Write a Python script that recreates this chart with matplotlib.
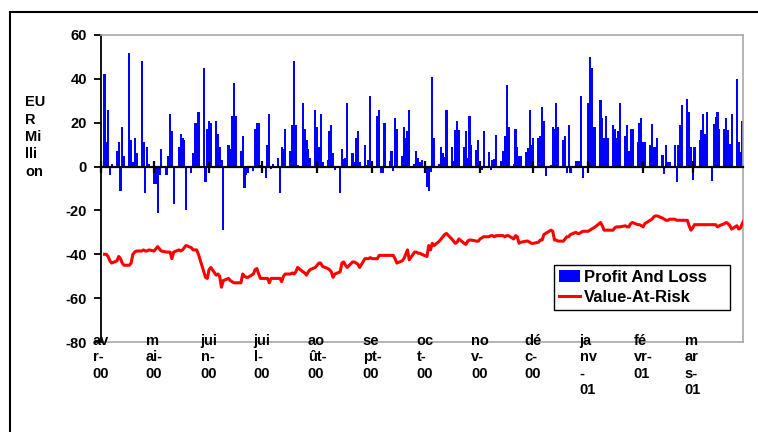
import numpy as np
import pandas as pd
import matplotlib
matplotlib.use("Agg")
import matplotlib.pyplot as plt
import matplotlib.dates as mdates
import matplotlib.transforms as mtransforms
from matplotlib.patches import Rectangle

plt.rcParams['font.family'] = ['Liberation Sans', 'DejaVu Sans']
plt.rcParams['font.weight'] = 'bold'
plt.rcParams['axes.unicode_minus'] = False

# ---------------- data (EUR million, one value per business day) ----------------
pnl_q2_2000 = [42, 11, 26, -4, 1, 7, 11, -11, 18, 5, 52, 12, 2, 13, 6, 48, 11, -12, 9, 1,
               -8, -8, -21, -4, 8, -4, 5, 24, 16, -17, 9, 15, 13, 12, -20, -3, 6, 20, 20, 25,
               45, -7, 17, 21, 20, 21, 15, 9, 3, -29, 10, 8, 23, 38, 23, 7, 14, -10, -4, -3,
               -2, 17, 20, 20, 0.5]
pnl_q3_2000 = [-5, 10, 24, -1, 1, 4, -12, 9, 8, 17, 7, 19, 48, 19, 0.5, 29, 17, 12, 8, 4,
               26, 18, 9, 24, 2, 3, 16, 19, 6, -1.5, -12, 8, 3.5, 4, 29, 6, 2, 13, 16, 2,
               10, 0.5, 3, 32, -2, 23, 26, -3, -3, 20, 2.5, 7, -2, 22, 17, 5, 18, 13, 16, 26,
               1, 7, 4, 2, 3]
pnl_q4_2000 = [-9.5, -11, -2.5, 41, 13, 1, 9, 6, 4.5, 26, 9, 2.5, 16.5, 21, 16.5, 9, 16, 4, 23, 10,
               7.5, 12, 2.5, -1.5, 16, 6.5, -1.5, 3, 3.5, 14.5, 2.5, 7, 14, 37, 18, 1, 17, 9, 5, 5,
               6.5, 8.5, 26, 10, 13, 13, 14, 27, 21, -4.5, 0.5, 18, 17, 29, 18, 12, 14, -3, 19, -3,
               2.5, 2.5, 2.5, 32, -5]
pnl_q1_2001 = [29, 50, 45, 18, 18, 30.5, 22, 13, 23, 13, 19, 17, 13, 16, 29, 14, 19, 7, 17, 17,
               11, 20, 22, 11, 11, 10, 19.5, 9, 9, 13, 5.5, -3.5, 10, 2, 2, 10, -7, 10, 19, 28,
               31, 25, 9, -6, 9, 12, 16.5, 24, 15, 25, -6.5, 19.5, 22.5, 25, 17, 17, 22, 16.5, 10.5, 24,
               40, 11, 6.5, 21, 22]

var_q2_2000 = [-40, -40, -41, -43, -44, -43, -41, -42, -44, -45, -45, -44, -40, -39, -38.5,
               -38.5, -38, -38.5, -38.5, -38, -38.5, -37.5, -36.5, -37.5, -38.5, -39, -39, -39, -42, -39,
               -38, -38.5, -38, -37, -36, -37, -38, -38, -38, -40, -48, -50.5, -51, -47, -46,
               -49.5, -49, -50, -55, -52, -51, -52, -52.5, -53, -53, -53, -49, -50, -50.5, -50.5,
               -49, -47, -46.5, -49, -51]
var_q3_2000 = [-51, -51, -53, -51, -51, -51, -51, -52.5, -50, -49, -49, -48.5, -49, -48, -46,
               -48, -48.5, -49.5, -48, -47, -46, -45, -44, -44, -45.5, -46.5, -47, -48, -50.5, -49,
               -48, -44, -43.5, -45, -46, -43.5, -43.5, -44, -44.5, -46, -42, -42, -42, -41.5, -42,
               -42, -40.5, -40.5, -40.5, -40.5, -40.5, -40.5, -40.5, -42, -44, -43, -42, -40, -38, -42.5,
               -39, -39, -39.5, -39.5, -40]
var_q4_2000 = [-41, -36, -38, -35, -36, -34, -33, -32, -31, -30.5, -33, -34, -35, -34.5, -33,
               -35, -35.5, -34, -33.5, -33.5, -34, -34, -33, -32.5, -32, -32, -31.5, -31.5, -32, -31.5,
               -31.5, -31.5, -32, -31.5, -31.5, -33, -31.5, -32, -35, -34.5, -34, -34, -34.5, -35, -35,
               -34.5, -33.5, -33.5, -31, -30.5, -29, -29.5, -33.5, -33.5, -34, -34, -33, -32, -32, -31,
               -30, -30.5, -30.5, -30, -29.5]
var_q1_2001 = [-29.5, -29, -28.5, -28, -27.5, -25.5, -27, -29, -29, -29, -29, -28, -27.5, -27.5, -27.5,
               -27, -27.5, -27.5, -26, -25.5, -26.5, -26.5, -27, -27.5, -26, -24.5, -24, -23, -22.5, -22.5,
               -23.5, -24, -24.5, -24.5, -24, -24, -24.5, -24.5, -24.5, -24.5, -24.5, -27, -29, -28, -26.5,
               -26.5, -26.5, -26.5, -26.5, -26.5, -26.5, -26.5, -26.5, -27.5, -27, -26, -25.5, -26, -27, -28.5,
               -27, -28.5, -28, -26, -24.5]

month_labels = ["av\nr-\n00", "m\nai-\n00", "jui\nn-\n00", "jui\nl-\n00", "ao\nût-\n00",
                "se\npt-\n00", "oc\nt-\n00", "no\nv-\n00", "dé\nc-\n00", "ja\nnv\n-\n01",
                "fé\nvr-\n01", "m\nar\ns-\n01"]
y_label = "EU\nR\nMi\nlli\non"
legend_labels = ["Profit And Loss", "Value-At-Risk"]

dates = pd.bdate_range("2000-04-03", "2001-03-30")
pnl = np.array(pnl_q2_2000 + pnl_q3_2000 + pnl_q4_2000 + pnl_q1_2001, dtype=float)
var = np.array(var_q2_2000 + var_q3_2000 + var_q4_2000 + var_q1_2001, dtype=float)
n = min(len(dates), len(pnl), len(var))
dates = dates[:n]
pnl = pnl[:n]
var = var[:n]
month_starts = pd.date_range("2000-04-01", "2001-03-01", freq="MS")

# ---------------- figure ----------------
W, H = 758, 432
fig = plt.figure(figsize=(W / 100, H / 100), dpi=100)
fig.patch.set_facecolor("white")

x0, x1, ytop, ybot = 101, 743, 35, 342
ax = fig.add_axes([x0 / W, 1 - ybot / H, (x1 - x0) / W, (ybot - ytop) / H])

xd = mdates.date2num(dates.to_pydatetime())
bars = ax.bar(xd, pnl, width=1.25, color="#0000FF", edgecolor="none",
              label=legend_labels[0], zorder=1)
line, = ax.plot(xd, var, color="#FF0000", lw=2.2, label=legend_labels[1],
                zorder=3, solid_joinstyle="round")

left = mdates.date2num(pd.Timestamp("2000-04-02 18:00").to_pydatetime())
right = mdates.date2num(pd.Timestamp("2001-03-29 10:00").to_pydatetime())
ax.set_xlim(left, right)
ax.set_ylim(-80, 60)
ax.set_yticks(np.arange(-80, 61, 20))
ax.set_yticklabels([str(v) for v in range(-80, 61, 20)], fontsize=10.5, fontweight="bold")

# x axis through zero with month ticks
ax.spines["bottom"].set_position(("data", 0))
ax.spines["bottom"].set_linewidth(1.6)
ax.spines["bottom"].set_color("black")
ms_num = mdates.date2num(month_starts.to_pydatetime())
ax.set_xticks(ms_num)
ax.tick_params(axis="x", direction="inout", length=8, width=1.6, labelbottom=False)
ax.tick_params(axis="y", direction="out", length=5, width=1.3, pad=5)

ax.spines["left"].set_linewidth(1.3)
ax.spines["left"].set_color("black")
for s in ("top", "right"):
    ax.spines[s].set_color("#a8a8a8")
    ax.spines[s].set_linewidth(1.2)
ax.axhline(-80, color="#a8a8a8", lw=1.2, clip_on=False, zorder=0.5)

# month labels
trans = mtransforms.blended_transform_factory(ax.transData, fig.transFigure)
for d, lab in zip(ms_num, month_labels):
    ax.text(d, 1 - 334 / H, lab, transform=trans, ha="center", va="top",
            multialignment="left", fontsize=10.5, fontweight="bold", linespacing=1.22)

# y label
fig.text(25 / W, 1 - 137 / H, y_label, ha="left", va="center", multialignment="left",
         fontsize=10.5, fontweight="bold", linespacing=1.3)

# legend
leg = fig.legend(handles=[bars, line], labels=legend_labels, loc="upper left",
                 bbox_to_anchor=(554 / W, 1 - 308 / H, 176 / W, 43 / H),
                 bbox_transform=fig.transFigure, mode="expand",
                 prop={"size": 12, "weight": "bold", "family": "Liberation Sans"},
                 frameon=True, fancybox=False, shadow=False, borderpad=0.3,
                 labelspacing=0.3, handlelength=1.25, handletextpad=0.25,
                 borderaxespad=0)
leg.get_frame().set_edgecolor("black")
leg.get_frame().set_linewidth(1.0)
leg.get_frame().set_alpha(1)

# outer chart frame (continues beyond the image on the right and bottom)
fig.add_artist(Rectangle((10 / W, -0.5), 2.0, (1 - 12 / H) + 0.5, transform=fig.transFigure,
                         fill=False, edgecolor="black", linewidth=1.5))

fig.savefig("out.png", dpi=100)
